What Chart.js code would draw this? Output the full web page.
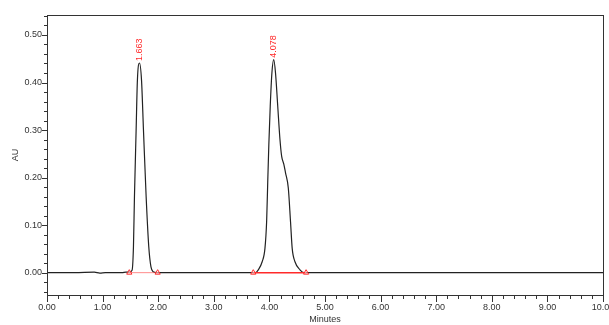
<!DOCTYPE html>
<html>
<head>
<meta charset="utf-8">
<script src="https://cdn.jsdelivr.net/npm/chart.js@4/dist/chart.umd.min.js"></script>
<style>
  html, body { margin: 0; padding: 0; background: #fff; overflow: hidden; }
  #wrap { width: 609px; height: 325px; }
</style>
</head>
<body>
<div id="wrap"><canvas id="chrom" width="609" height="325"></canvas></div>
<script>
// detector trace (minutes, AU)
const TIME = [0, 0.5, 0.85, 0.95, 1.05, 1.2, 1.35, 1.42, 1.48,
  1.53, 1.555, 1.573, 1.603, 1.626, 1.663, 1.70, 1.735, 1.783, 1.83,
  1.87, 1.91, 1.97, 2.5, 3.0, 3.5, 3.75, 3.80, 3.87, 3.92,
  3.95, 3.97, 3.99, 4.015, 4.045, 4.078, 4.11, 4.15, 4.19, 4.22,
  4.26, 4.29, 4.34, 4.38, 4.41, 4.46, 4.55, 4.62, 5.0, 6.0,
  7.0, 8.0, 9.0, 10.0];
const AU = [0, 0, 0.001, -0.001, 0, 0, 0, 0.001, 0.001,
  0.005, 0.055, 0.16, 0.30, 0.405, 0.441, 0.405, 0.30, 0.16, 0.055,
  0.012, 0.002, 0, 0, 0, 0, 0, 0.006, 0.023, 0.051,
  0.107, 0.19, 0.27, 0.35, 0.42, 0.448, 0.42, 0.35, 0.28, 0.245,
  0.228, 0.21, 0.178, 0.107, 0.051, 0.023, 0.006, 0, 0, 0,
  0, 0, 0, 0];

// integrated peaks: retention time, apex height, baseline start/end
const PEAK_RT = [1.663, 4.078];
const PEAK_APEX = [0.441, 0.448];
const PEAK_START = [1.48, 3.71];
const PEAK_END = [1.99, 4.66];

const X_TICKS = [0, 1, 2, 3, 4, 5, 6, 7, 8, 9, 10];
const Y_TICKS = [0, 0.1, 0.2, 0.3, 0.4, 0.5];

const FONT = "'Liberation Sans', Arial, sans-serif";
const INK = "#333";
const RED = "#ff2a2a";

const trace = TIME.map((t, i) => ({ x: t, y: AU[i] }));
const baselines = PEAK_RT.map((rt, i) => ({
  data: [{ x: PEAK_START[i], y: 0 }, { x: PEAK_END[i], y: 0 }],
  borderColor: i === 0 ? "rgba(255,90,90,0.7)" : RED,
  borderWidth: i === 0 ? 1 : 1.5,
  pointStyle: "triangle",
  pointRadius: 3,
  pointBorderWidth: 1,
  pointBorderColor: RED,
  pointBackgroundColor: "rgba(255,255,255,0.5)",
}));

const axisDecor = {
  id: "axisDecor",
  afterDraw(chart) {
    const { ctx, chartArea: a, scales: { x, y } } = chart;
    ctx.save();
    ctx.strokeStyle = INK;
    ctx.lineWidth = 1;
    ctx.strokeRect(Math.round(a.left) + 0.5, Math.round(a.top) + 0.5,
      Math.round(a.right - a.left), Math.round(a.bottom - a.top));
    ctx.beginPath();
    for (let i = 0; i <= 50; i++) {
      const px = Math.round(x.getPixelForValue(i * 0.2)) + 0.5;
      const len = i % 5 === 0 ? 7 : 4;
      ctx.moveTo(px, a.bottom);
      ctx.lineTo(px, a.bottom + len);
    }
    for (let i = -2; i <= 27; i++) {
      const py = Math.round(y.getPixelForValue(i * 0.02)) + 0.5;
      const len = i % 5 === 0 ? 5 : 3;
      ctx.moveTo(a.left, py);
      ctx.lineTo(a.left - len, py);
    }
    ctx.stroke();
    ctx.restore();
  },
};

const peakLabels = {
  id: "peakLabels",
  afterDatasetsDraw(chart) {
    const { ctx, scales: { x, y } } = chart;
    ctx.save();
    ctx.fillStyle = RED;
    ctx.font = "9px " + FONT;
    ctx.textAlign = "left";
    ctx.textBaseline = "middle";
    PEAK_RT.forEach((rt, i) => {
      ctx.save();
      ctx.translate(x.getPixelForValue(rt), y.getPixelForValue(PEAK_APEX[i]) - 2);
      ctx.rotate(-Math.PI / 2);
      ctx.fillText(rt.toFixed(3), 0, 0);
      ctx.restore();
    });
    ctx.restore();
  },
};

new Chart(document.getElementById("chrom"), {
  type: "line",
  data: {
    datasets: [
      ...baselines,
      {
        data: trace,
        borderColor: "#222",
        borderWidth: 1.2,
        pointRadius: 0,
        cubicInterpolationMode: "monotone",
      },
    ],
  },
  options: {
    responsive: false,
    animation: false,
    devicePixelRatio: 1,
    layout: { padding: { top: 15, right: 6, left: 0, bottom: 0 } },
    plugins: { legend: { display: false }, tooltip: { enabled: false } },
    scales: {
      x: {
        type: "linear",
        min: 0,
        max: 10,
        afterBuildTicks: (s) => { s.ticks = X_TICKS.map((v) => ({ value: v })); },
        afterFit: (s) => { s.height = 30; s.paddingLeft = 0; s.paddingRight = 0; },
        grid: { display: false, drawTicks: false },
        border: { display: false },
        ticks: {
          padding: 7,
          autoSkip: false,
          maxRotation: 0,
          color: INK,
          font: { family: FONT, size: 9 },
          callback: (v) => Number(v).toFixed(2),
        },
        title: {
          display: true,
          text: "Minutes",
          color: INK,
          font: { family: FONT, size: 9 },
          padding: { top: 0, bottom: 0 },
        },
      },
      y: {
        type: "linear",
        min: -0.047,
        max: 0.542,
        afterBuildTicks: (s) => { s.ticks = Y_TICKS.map((v) => ({ value: v })); },
        afterFit: (s) => { s.width = 47; s.paddingTop = 0; s.paddingBottom = 0; },
        grid: { display: false, drawTicks: false },
        border: { display: false },
        ticks: {
          padding: 5,
          color: INK,
          font: { family: FONT, size: 9 },
          callback: (v) => Number(v).toFixed(2),
        },
        title: {
          display: true,
          text: "AU",
          color: INK,
          font: { family: FONT, size: 9 },
          padding: { top: 10, bottom: 0 },
        },
      },
    },
  },
  plugins: [axisDecor, peakLabels],
});
</script>
</body>
</html>
